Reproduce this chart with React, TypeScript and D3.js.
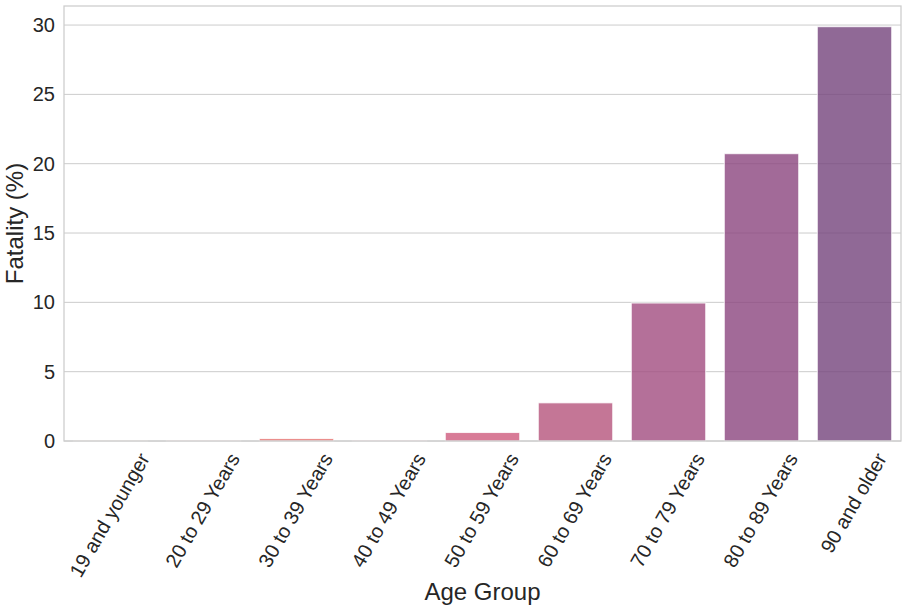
import React, { useEffect, useRef } from "react";
import * as d3 from "d3";

const categories = [
  "19 and younger",
  "20 to 29 Years",
  "30 to 39 Years",
  "40 to 49 Years",
  "50 to 59 Years",
  "60 to 69 Years",
  "70 to 79 Years",
  "80 to 89 Years",
  "90 and older",
];
const fatality = [0.01, 0.04, 0.18, 0.05, 0.61, 2.75, 9.95, 20.72, 29.88];
const colors = [
  "#ec8a63", "#e77c69", "#e6726f", "#d9667a", "#ce5a7d",
  "#b5547c", "#a14c7f", "#8b457e", "#74437c",
];
const yTicks = [0, 5, 10, 15, 20, 25, 30];

const W = 913, H = 606;
const M = { left: 64, right: 12, top: 6, bottom: 165 };

export default function App() {
  const ref = useRef<SVGSVGElement>(null);
  useEffect(() => {
    const svg = d3.select(ref.current);
    svg.selectAll("*").remove();
    const x0 = M.left, x1 = W - M.right, y0 = H - M.bottom, y1 = M.top;
    const x = d3.scaleBand<string>().domain(categories).range([x0, x1]).paddingInner(0.2).paddingOuter(0.1);
    const y = d3.scaleLinear().domain([0, d3.max(fatality)! * 1.05]).range([y0, y1]);
    const font = "Arial, 'Liberation Sans', sans-serif";
    const text = "#262626";

    // grid
    svg.append("g").selectAll("line").data(yTicks).join("line")
      .attr("x1", x0).attr("x2", x1)
      .attr("y1", (d) => y(d)).attr("y2", (d) => y(d))
      .attr("stroke", "#cccccc").attr("stroke-width", 1);

    // bars
    svg.append("g").selectAll("rect").data(categories).join("rect")
      .attr("x", (d) => x(d)!)
      .attr("width", x.bandwidth())
      .attr("y", (d, i) => y(fatality[i]))
      .attr("height", (d, i) => y0 - y(fatality[i]))
      .attr("fill", (d, i) => colors[i])
      .attr("fill-opacity", 0.8)
      .attr("stroke", "#ffffff")
      .attr("stroke-opacity", 0.8)
      .attr("stroke-width", 1);

    // spines
    svg.append("rect").attr("x", x0).attr("y", y1).attr("width", x1 - x0).attr("height", y0 - y1)
      .attr("fill", "none").attr("stroke", "#cccccc").attr("stroke-width", 1.25);

    // y tick labels
    svg.append("g").selectAll("text").data(yTicks).join("text")
      .attr("x", x0 - 9).attr("y", (d) => y(d))
      .attr("text-anchor", "end").attr("dominant-baseline", "central")
      .attr("font-family", font).attr("font-size", 20).attr("fill", text)
      .text((d) => String(d));

    // x tick labels rotated
    const fs = 20;
    const labels = svg.append("g").selectAll("text").data(categories).join("text")
      .attr("text-anchor", "middle").attr("dominant-baseline", "central")
      .attr("font-family", font).attr("font-size", fs).attr("fill", text)
      .text((d) => d);
    labels.each(function (d) {
      const L = (this as SVGTextElement).getComputedTextLength();
      const hh = (L * Math.sin(Math.PI / 3) + fs * 1.15 * Math.cos(Math.PI / 3)) / 2;
      const cx = x(d)! + x.bandwidth() / 2;
      d3.select(this).attr("transform", `translate(${cx - 1},${y0 + 8 + hh}) rotate(-60)`);
    });

    // axis titles
    svg.append("text").attr("x", (x0 + x1) / 2).attr("y", 600)
      .attr("text-anchor", "middle").attr("font-family", font).attr("font-size", 24).attr("fill", text)
      .text("Age Group");
    svg.append("text")
      .attr("transform", `translate(23,${(y0 + y1) / 2}) rotate(-90)`)
      .attr("text-anchor", "middle").attr("font-family", font).attr("font-size", 24).attr("fill", text)
      .text("Fatality (%)");
  }, []);
  return (
    <svg ref={ref} width={W} height={H} style={{ position: "absolute", left: 0, top: 0, background: "#fff" }} />
  );
}
